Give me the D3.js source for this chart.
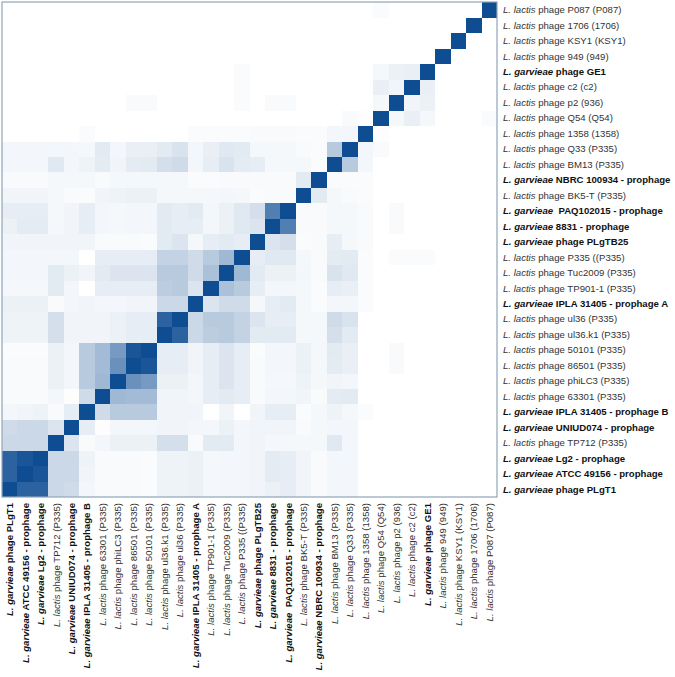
<!DOCTYPE html>
<html>
<head>
<meta charset="utf-8">
<script src="https://cdn.jsdelivr.net/npm/d3@7/dist/d3.min.js"></script>
<style>
  html, body { margin: 0; padding: 0; background: #fff; }
  svg { display: block; }
  text { font-family: "Liberation Sans", Arial, Helvetica, sans-serif; white-space: pre; }
</style>
</head>
<body>
<svg id="chart" width="675" height="677"></svg>
<script>
// Column order (left to right); rows are drawn in the reverse order (top to bottom).
const labels = [
  "L. garvieae phage PLgT1",
  "L. garvieae ATCC 49156 - prophage",
  "L. garvieae Lg2 - prophage",
  "L. lactis phage TP712 (P335)",
  "L. garvieae UNIUD074 - prophage",
  "L. garvieae IPLA 31405 - prophage B",
  "L. lactis phage 63301 (P335)",
  "L. lactis phage phiLC3 (P335)",
  "L. lactis phage 86501 (P335)",
  "L. lactis phage 50101 (P335)",
  "L. lactis phage ul36.k1 (P335)",
  "L. lactis phage ul36 (P335)",
  "L. garvieae IPLA 31405 - prophage A",
  "L. lactis phage TP901-1 (P335)",
  "L. lactis phage Tuc2009 (P335)",
  "L. lactis phage P335 ((P335)",
  "L. garvieae phage PLgTB25",
  "L. garvieae 8831 - prophage",
  "L. garvieae  PAQ102015 - prophage",
  "L. lactis phage BK5-T (P335)",
  "L. garvieae NBRC 100934 - prophage",
  "L. lactis phage BM13 (P335)",
  "L. lactis phage Q33 (P335)",
  "L. lactis phage 1358 (1358)",
  "L. lactis phage Q54 (Q54)",
  "L. lactis phage p2 (936)",
  "L. lactis phage c2 (c2)",
  "L. garvieae phage GE1",
  "L. lactis phage 949 (949)",
  "L. lactis phage KSY1 (KSY1)",
  "L. lactis phage 1706 (1706)",
  "L. lactis phage P087 (P087)"
];

// Similarity of genome i with genomes j < i (lower triangle); diagonal = 1.
const lower = [
  [],
  [0.88],
  [0.88, 0.95],
  [0.22, 0.22, 0.22],
  [0.20, 0.22, 0.22, 0.15],
  [0.05, 0.06, 0.07, 0.03, 0.10],
  [0.03, 0.03, 0.03, 0.05, 0.01, 0.20],
  [0.03, 0.03, 0.03, 0.08, 0.05, 0.30, 0.40],
  [0.03, 0.03, 0.03, 0.08, 0.05, 0.30, 0.38, 0.62],
  [0.02, 0.02, 0.02, 0.08, 0.05, 0.30, 0.38, 0.57, 0.95],
  [0.07, 0.07, 0.07, 0.18, 0.06, 0.06, 0.06, 0.08, 0.10, 0.10],
  [0.07, 0.07, 0.07, 0.18, 0.06, 0.06, 0.06, 0.08, 0.10, 0.10, 0.88],
  [0.08, 0.08, 0.08, 0.03, 0.05, 0.06, 0.05, 0.05, 0.06, 0.06, 0.22, 0.22],
  [0.04, 0.04, 0.04, 0.12, 0.05, 0.00, 0.10, 0.10, 0.10, 0.10, 0.28, 0.30, 0.15],
  [0.05, 0.05, 0.05, 0.12, 0.08, 0.06, 0.12, 0.15, 0.15, 0.15, 0.30, 0.30, 0.20, 0.35],
  [0.05, 0.05, 0.05, 0.05, 0.05, 0.00, 0.10, 0.10, 0.10, 0.10, 0.25, 0.25, 0.20, 0.30, 0.40],
  [0.06, 0.06, 0.06, 0.06, 0.06, 0.06, 0.03, 0.03, 0.03, 0.02, 0.12, 0.15, 0.04, 0.10, 0.12, 0.10],
  [0.08, 0.11, 0.11, 0.04, 0.06, 0.10, 0.05, 0.04, 0.05, 0.05, 0.12, 0.10, 0.10, 0.05, 0.08, 0.13, 0.15],
  [0.10, 0.10, 0.10, 0.04, 0.06, 0.10, 0.05, 0.04, 0.05, 0.05, 0.12, 0.10, 0.12, 0.05, 0.08, 0.13, 0.18, 0.72],
  [0.06, 0.06, 0.06, 0.04, 0.03, 0.02, 0.06, 0.07, 0.08, 0.08, 0.04, 0.04, 0.04, 0.04, 0.05, 0.04, 0.02, 0.03, 0.03],
  [0.03, 0.03, 0.03, 0.04, 0.04, 0.04, 0.03, 0.04, 0.04, 0.04, 0.04, 0.04, 0.02, 0.02, 0.03, 0.03, 0.03, 0.03, 0.03, 0.12],
  [0.05, 0.05, 0.05, 0.13, 0.05, 0.07, 0.11, 0.06, 0.11, 0.12, 0.18, 0.20, 0.05, 0.10, 0.16, 0.11, 0.10, 0.04, 0.04, 0.04, 0.02],
  [0.05, 0.05, 0.05, 0.05, 0.05, 0.04, 0.12, 0.05, 0.09, 0.09, 0.12, 0.16, 0.05, 0.09, 0.13, 0.12, 0.04, 0.04, 0.04, 0.03, 0.02, 0.30],
  [0, 0, 0, 0, 0, 0.02, 0, 0, 0, 0, 0, 0, 0.02, 0.02, 0.02, 0.02, 0.03, 0.03, 0.03, 0.02, 0.02, 0.05, 0.05],
  [0, 0, 0, 0, 0, 0, 0, 0, 0, 0, 0, 0, 0, 0, 0, 0, 0, 0, 0, 0, 0, 0, 0.03, 0.01],
  [0, 0, 0, 0, 0, 0, 0, 0, 0.03, 0.03, 0, 0, 0, 0, 0, 0.02, 0, 0.03, 0.03, 0, 0, 0, 0, 0, 0.04],
  [0, 0, 0, 0, 0, 0, 0, 0, 0, 0, 0, 0, 0, 0, 0, 0.02, 0, 0, 0, 0, 0, 0, 0, 0, 0.09, 0.06],
  [0, 0, 0, 0, 0, 0, 0, 0, 0, 0, 0, 0, 0, 0, 0, 0.02, 0, 0, 0, 0, 0, 0, 0, 0, 0.04, 0.08, 0.09],
  [0, 0, 0, 0, 0, 0, 0, 0, 0, 0, 0, 0, 0, 0, 0, 0, 0, 0, 0, 0, 0, 0, 0, 0, 0, 0, 0, 0],
  [0, 0, 0, 0, 0, 0, 0, 0, 0, 0, 0, 0, 0, 0, 0, 0, 0, 0, 0, 0, 0, 0, 0, 0, 0, 0, 0, 0, 0],
  [0, 0, 0, 0, 0, 0, 0, 0, 0, 0, 0, 0, 0, 0, 0, 0, 0, 0, 0, 0, 0, 0, 0, 0, 0, 0, 0, 0, 0, 0],
  [0, 0, 0, 0, 0, 0, 0, 0, 0, 0, 0, 0, 0, 0, 0, 0, 0, 0, 0, 0, 0, 0, 0, 0, 0.02, 0, 0, 0, 0, 0, 0]
];

const n = labels.length;
const cells = [];
for (let i = 0; i < n; i++) {
  for (let j = 0; j < n; j++) {
    const v = i === j ? 1 : (j < i ? lower[i][j] : lower[j][i]);
    cells.push({ col: labels[i], row: labels[j], v });
  }
}

const svg = d3.select("#chart");
const x0 = 2, x1 = 497, y0 = 2, y1 = 497;

const x = d3.scaleBand().domain(labels).range([x0, x1]).padding(0);
const y = d3.scaleBand().domain(labels.slice().reverse()).range([y0, y1]).padding(0);
const color = d3.scaleLinear().domain([0, 1]).range(["#ffffff", "#0e4d92"]).clamp(true);

svg.append("g").selectAll("rect").data(cells).join("rect")
  .attr("x", d => x(d.col))
  .attr("y", d => y(d.row))
  .attr("width", x.bandwidth() + 0.3)
  .attr("height", y.bandwidth() + 0.3)
  .attr("fill", d => color(d.v))
  .attr("shape-rendering", "crispEdges");

svg.append("rect")
  .attr("x", x0).attr("y", y0)
  .attr("width", x1 - x0).attr("height", y1 - y0)
  .attr("fill", "none")
  .attr("stroke", "#8fa5ba")
  .attr("stroke-width", 1.2);

function addLabel(sel, label) {
  const isG = label.startsWith("L. garvieae");
  const sp = isG ? "L. garvieae" : "L. lactis";
  const rest = label.slice(sp.length);
  sel.attr("fill", isG ? "#111" : "#333")
     .attr("font-weight", isG ? "bold" : "normal");
  sel.append("tspan").attr("font-style", "italic").text(sp);
  sel.append("tspan").text(rest);
}

const fs = 9.6;
// Right-hand labels (rows)
const yAxis = d3.axisRight(y).tickSize(0).tickPadding(0).tickFormat("");
const gy = svg.append("g").attr("transform", `translate(${x1 + 6},0)`).call(yAxis);
gy.select(".domain").remove();
gy.selectAll(".tick").each(function(d) {
  const t = d3.select(this).append("text")
    .attr("x", 0).attr("dy", "0.35em")
    .attr("font-size", fs)
    .attr("text-anchor", "start");
  addLabel(t, d);
});

// Bottom labels (columns), rotated
const xAxis = d3.axisBottom(x).tickSize(0).tickPadding(0).tickFormat("");
const gx = svg.append("g").attr("transform", `translate(0,${y1 + 6})`).call(xAxis);
gx.select(".domain").remove();
gx.selectAll(".tick").each(function(d) {
  const t = d3.select(this).append("text")
    .attr("transform", "rotate(-90)")
    .attr("x", 0).attr("y", 0).attr("dy", "0.35em")
    .attr("font-size", fs)
    .attr("text-anchor", "end");
  addLabel(t, d);
});
</script>
</body>
</html>
